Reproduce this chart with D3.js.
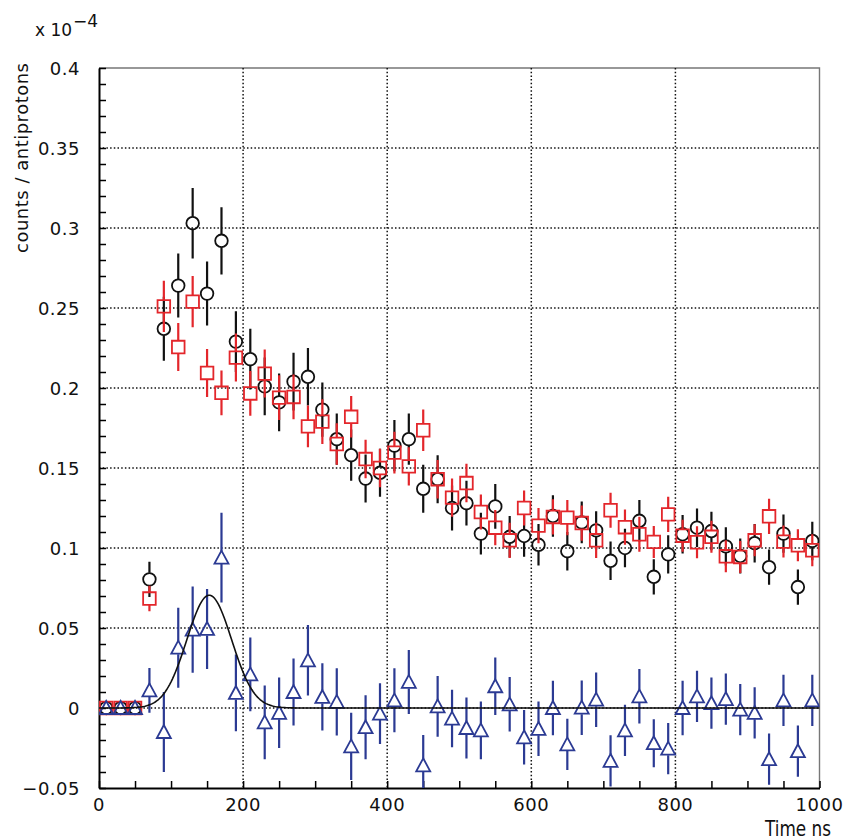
<!DOCTYPE html>
<html>
<head>
<meta charset="utf-8">
<script src="https://cdn.jsdelivr.net/npm/d3@7"></script>
<style>
  body { margin: 0; background: #fff; }
  svg text { font-family: "DejaVu Sans", sans-serif; fill: #111; }
</style>
</head>
<body>
<svg id="chart" width="846" height="840"></svg>
<script>
// time bins (ns)
const timeNs = [10, 30, 50, 70, 90, 110, 130, 150, 170, 190, 210, 230, 250, 270, 290, 310, 330, 350, 370, 390,
  410, 430, 450, 470, 490, 510, 530, 550, 570, 590, 610, 630, 650, 670, 690, 710, 730, 750, 770, 790,
  810, 830, 850, 870, 890, 910, 930, 950, 970, 990];

// black circles
const circleVals = [0, 0, 0, 0.0804, 0.237, 0.264, 0.303, 0.259, 0.292, 0.229, 0.218, 0.201, 0.191, 0.204, 0.207, 0.1865, 0.168, 0.158, 0.1434, 0.147,
  0.164, 0.168, 0.137, 0.143, 0.125, 0.128, 0.109, 0.126, 0.107, 0.1075, 0.102, 0.120, 0.098, 0.116, 0.111, 0.092, 0.100, 0.117, 0.082, 0.096,
  0.1086, 0.1127, 0.1106, 0.101, 0.095, 0.103, 0.088, 0.109, 0.0756, 0.1044];
const circleErr = [0, 0, 0, 0.011, 0.02, 0.02, 0.022, 0.02, 0.021, 0.019, 0.019, 0.018, 0.018, 0.018, 0.018, 0.017, 0.016, 0.016, 0.015, 0.015,
  0.016, 0.016, 0.015, 0.015, 0.014, 0.014, 0.013, 0.014, 0.013, 0.013, 0.013, 0.013, 0.012, 0.013, 0.012, 0.012, 0.012, 0.013, 0.011, 0.012,
  0.012, 0.012, 0.012, 0.012, 0.011, 0.012, 0.011, 0.012, 0.011, 0.012];

// red squares
const squareVals = [0, 0, 0, 0.0684, 0.251, 0.2256, 0.254, 0.2094, 0.197, 0.219, 0.1966, 0.209, 0.194, 0.1944, 0.176, 0.179, 0.165, 0.182, 0.1556, 0.150,
  0.1596, 0.151, 0.1736, 0.143, 0.1315, 0.1406, 0.1225, 0.1127, 0.1048, 0.125, 0.114, 0.1194, 0.119, 0.1156, 0.1048, 0.1236, 0.113, 0.1086, 0.1038, 0.121,
  0.1077, 0.1036, 0.107, 0.0948, 0.0944, 0.1048, 0.1198, 0.104, 0.1017, 0.0986];
const squareErr = [0, 0, 0, 0.008, 0.016, 0.015, 0.016, 0.015, 0.014, 0.015, 0.014, 0.015, 0.014, 0.014, 0.013, 0.014, 0.013, 0.013, 0.012, 0.012,
  0.013, 0.012, 0.013, 0.012, 0.012, 0.012, 0.011, 0.011, 0.011, 0.011, 0.011, 0.011, 0.011, 0.011, 0.011, 0.011, 0.011, 0.011, 0.010, 0.011,
  0.010, 0.010, 0.010, 0.010, 0.010, 0.010, 0.011, 0.010, 0.010, 0.010];

// blue triangles
const triangleVals = [0, 0, 0, 0.011, -0.015, 0.0377, 0.049, 0.0494, 0.094, 0.0094, 0.021, -0.009, -0.003, 0.010, 0.0298, 0.0069, 0.0038, -0.024, -0.012, -0.0035,
  0.0048, 0.0163, -0.0358, 0.001, -0.0066, -0.0125, -0.014, 0.0136, 0.0023, -0.0183, -0.013, 0, -0.0227, 0.0002, 0.0052, -0.033, -0.014, 0.0073, -0.022, -0.0254,
  0, 0.0073, 0.003, 0.0056, -0.001, -0.003, -0.032, 0.0048, -0.027, 0.0048];
const triangleErr = [0, 0, 0, 0.014, 0.025, 0.025, 0.027, 0.025, 0.028, 0.024, 0.023, 0.023, 0.022, 0.021, 0.022, 0.021, 0.021, 0.021, 0.02, 0.019,
  0.02, 0.02, 0.019, 0.019, 0.018, 0.019, 0.018, 0.018, 0.017, 0.017, 0.017, 0.017, 0.016, 0.017, 0.017, 0.016, 0.016, 0.017, 0.015, 0.016,
  0.017, 0.016, 0.016, 0.016, 0.016, 0.016, 0.016, 0.016, 0.016, 0.016];

// gaussian fit to the triangles
const fitAmp = 0.0705, fitMean = 153, fitSigma = 31;

const xTicks = [0, 200, 400, 600, 800, 1000];
const yTicks = [-0.05, 0, 0.05, 0.1, 0.15, 0.2, 0.25, 0.3, 0.35, 0.4];
const yTickLabels = ["\u22120.05", "0", "0.05", "0.1", "0.15", "0.2", "0.25", "0.3", "0.35", "0.4"];

const svg = d3.select("#chart");
const pLeft = 99, pRight = 819.5, pTop = 68, pBottom = 788;

const x = d3.scaleLinear().domain([0, 1000]).range([pLeft, pRight]);
const y = d3.scaleLinear().domain([-0.05, 0.4]).range([pBottom, pTop]);

svg.append("defs").append("clipPath").attr("id", "plotClip")
  .append("rect").attr("x", pLeft).attr("y", pTop).attr("width", pRight - pLeft).attr("height", pBottom - pTop);

// frame top/right
svg.append("path")
  .attr("d", `M${pLeft},${pTop}H${pRight}V${pBottom}`)
  .attr("fill", "none").attr("stroke", "#777").attr("stroke-width", 1.4);

// dotted grid
const grid = svg.append("g").attr("stroke", "#111").attr("stroke-width", 1.5).attr("stroke-dasharray", "1.5,2.2");
grid.selectAll("line.gx").data(xTicks.filter(d => d > 0 && d < 1000)).join("line")
  .attr("x1", d => x(d)).attr("x2", d => x(d)).attr("y1", pTop).attr("y2", pBottom);
grid.selectAll("line.gy").data(yTicks.filter(d => d > -0.05 && d < 0.4)).join("line")
  .attr("y1", d => y(d)).attr("y2", d => y(d)).attr("x1", pLeft).attr("x2", pRight);

// axes
const xAxis = d3.axisBottom(x).tickValues(d3.range(0, 1001, 50)).tickSize(-7).tickSizeOuter(0).tickFormat("");
svg.append("g").attr("transform", `translate(0,${pBottom})`).call(xAxis)
  .call(g => { g.select(".domain").attr("stroke-width", 2); g.selectAll(".tick line").attr("stroke-width", 1.5); });
const yAxis = d3.axisLeft(y).tickValues(d3.range(-0.05, 0.4001, 0.01)).tickSize(-7).tickSizeOuter(0).tickFormat("");
svg.append("g").attr("transform", `translate(${pLeft},0)`).call(yAxis)
  .call(g => { g.select(".domain").attr("stroke-width", 2); g.selectAll(".tick line").attr("stroke-width", 1.5); });

// tick labels
svg.append("g").selectAll("text").data(xTicks).join("text")
  .attr("x", d => x(d)).attr("y", 811).attr("text-anchor", "middle")
  .style("font-size", "18px").style("letter-spacing", "0.5px").text(d => d);
svg.append("g").selectAll("text").data(yTicks).join("text")
  .attr("x", 80).attr("y", d => y(d) + 6.5).attr("text-anchor", "end")
  .style("font-size", "18px").style("letter-spacing", "0.5px").text((d, i) => yTickLabels[i]);

// exponent
svg.append("text").attr("x", 35).attr("y", 36).style("font-size", "17px").text("x 10");
svg.append("text").attr("x", 73).attr("y", 27).style("font-size", "17px").text("\u22124");

// titles
svg.append("text").attr("transform", "translate(28,63) rotate(-90)").attr("text-anchor", "end")
  .style("font-size", "18px").attr("textLength", 190).attr("lengthAdjust", "spacing")
  .text("counts / antiprotons");
svg.append("text").attr("x", 831).attr("y", 836).attr("text-anchor", "end")
  .style("font-size", "21px").attr("textLength", 66).attr("lengthAdjust", "spacingAndGlyphs")
  .text("Time ns");

const plot = svg.append("g").attr("clip-path", "url(#plotClip)");

function drawSeries(vals, errs, color, gap, markerPath) {
  const pts = timeNs.map((t, i) => ({ t, v: vals[i], e: errs[i] }));
  const g = plot.append("g");
  g.selectAll("path.err").data(pts.filter(d => d.e > 0)).join("path")
    .attr("d", d => {
      const px = x(d.t), py = y(d.v);
      const up = y(d.v + d.e), dn = y(d.v - d.e);
      let s = "";
      if (py - gap > up) s += `M${px},${up}V${py - gap}`;
      if (py + gap < dn) s += `M${px},${py + gap}V${dn}`;
      return s;
    })
    .attr("stroke", color).attr("stroke-width", 2.2).attr("fill", "none");
  g.selectAll("path.mk").data(pts).join("path")
    .attr("transform", d => `translate(${x(d.t)},${y(d.v)})`)
    .attr("d", markerPath)
    .attr("fill", "none").attr("stroke", color).attr("stroke-width", 1.8);
}

drawSeries(circleVals, circleErr, "#111", 6.5, "M6.3,0A6.3,6.3 0 1,1 -6.3,0A6.3,6.3 0 1,1 6.3,0Z");
drawSeries(squareVals, squareErr, "#e3262b", 6.5, "M-6.3,-6.3H6.3V6.3H-6.3Z");
drawSeries(triangleVals, triangleErr, "#2b3a93", 6.5, "M0,-7L7,6H-7Z");

// fit curve
const fitXs = d3.range(0, 1000.5, 2);
const line = d3.line().x(d => x(d)).y(d => y(fitAmp * Math.exp(-((d - fitMean) ** 2) / (2 * fitSigma * fitSigma))));
plot.append("path").datum(fitXs).attr("d", line)
  .attr("fill", "none").attr("stroke", "#111").attr("stroke-width", 1.6);
</script>
</body>
</html>
